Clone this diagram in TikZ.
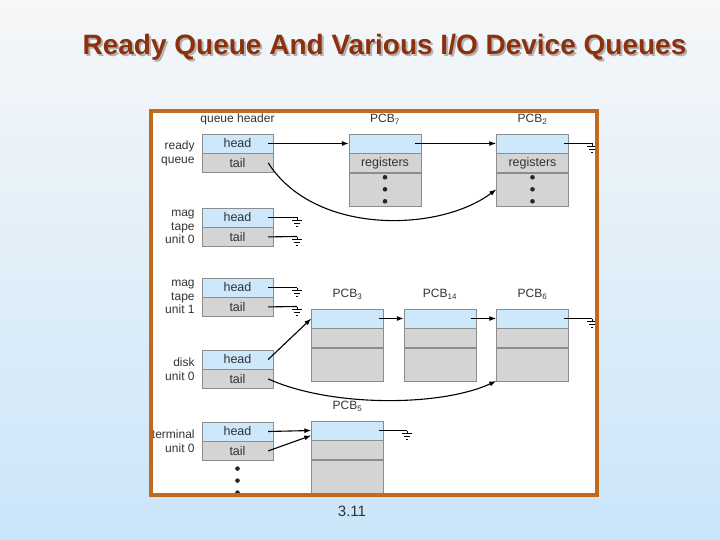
\documentclass[tikz,border=0pt]{standalone}
\usepackage{fontspec}
\setmainfont{Liberation Sans}
\usetikzlibrary{positioning,arrows.meta}
\definecolor{cellblue}{RGB}{204,232,250}
\definecolor{cellgray}{RGB}{212,212,212}
\definecolor{cellline}{RGB}{140,140,140}
\definecolor{framebrown}{RGB}{192,106,32}
\definecolor{titlered}{RGB}{140,48,14}
\definecolor{bgtop}{RGB}{246,247,248}
\definecolor{bgbot}{RGB}{202,229,249}
\tikzset{
  cell/.style={draw=cellline,minimum width=71pt,minimum height=19pt,inner sep=0pt,font=\fontsize{12.5}{12.5}\selectfont,text=black!80},
  headcell/.style={cell,fill=cellblue},
  tailcell/.style={cell,fill=cellgray},
  qlabel/.style={align=right,inner sep=0pt,font=\fontsize{12}{13.5}\selectfont,text=black!80},
  pcblabel/.style={inner sep=0pt,font=\fontsize{12}{12}\selectfont,text=black!80},
  link/.style={line width=1.1pt,-{Latex[length=7pt,width=5pt]}},
  wire/.style={line width=1.1pt},
  gnd/.pic={\draw[line width=0.8pt] (0,0)--(0,3) (-5,3)--(5,3) (-3,6)--(3,6) (-1,9)--(1,9);}
}
\begin{document}
\begin{tikzpicture}[x=1pt,y=-1pt]
\useasboundingbox (0,0) rectangle (720,540);
\shade[top color=bgtop,bottom color=bgbot] (0,0) rectangle (720,540);
\fill[white] (150.5,111) rectangle (597,495);

% title and slide number
\node[text=black!30,font=\fontsize{28}{28}\selectfont\bfseries] (titleshadow) at (386.5,49) {Ready Queue And Various I/O Device Queues};
\node[text=titlered,font=\fontsize{28}{28}\selectfont\bfseries] (title) at (384.5,47) {Ready Queue And Various I/O Device Queues};
\node[text=black!80,font=\fontsize{15}{15}\selectfont] (slideno) at (352,511) {3.11};

% queue headers
\foreach \nm/\y/\txt in {ready/143.5/{ready\\queue}, tapea/217.5/{mag\\tape\\unit 0}, tapeb/287.5/{mag\\tape\\unit 1}, disk/359.5/{disk\\unit 0}, term/431.5/{terminal\\unit 0}}
{
\node[headcell] (\nm-head) at (237.5,\y) {head};
\node[tailcell,below=0pt of \nm-head] (\nm-tail) {tail};
\node[qlabel,left=7pt of \nm-head.south west] (\nm-label) {\txt};
}
\node[pcblabel,above=9pt of ready-head] (qheader) {queue header};

% process control blocks
\foreach \nm/\x/\y/\sub/\reg in {seven/385/143.5/7/registers, two/532.5/143.5/2/registers, three/347.5/318.5/3/{}, fourteen/440/318.5/14/{}, six/532.5/318.5/6/{}, five/347.5/430.5/5/{}}
{
\node[headcell,minimum width=72pt] (\nm) at (\x,\y) {};
\node[tailcell,minimum width=72pt,below=0pt of \nm] (\nm-reg) {\reg};
\node[tailcell,minimum width=72pt,minimum height=33pt,below=0pt of \nm-reg] (\nm-rest) {};
\node[pcblabel,above=9pt of \nm] (\nm-label) {PCB\textsubscript{\sub}};
}
\foreach \nm in {seven, two}
\foreach \d in {-12,0,12}
\fill[black!85] ([yshift=\d pt]\nm-rest.center) circle[radius=2.3pt];
\foreach \d in {8,20,32}
\fill[black!85] ([yshift=-\d pt]term-tail.south) circle[radius=2.3pt];

% links between queue entries
\draw[link] ([xshift=-5pt]ready-head.east) -- (seven.west);
\draw[link] ([xshift=-6pt]seven.east) -- (two.west);
\draw[link] ([xshift=-5pt]ready-tail.east) .. controls (315,236) and (440,232) .. (two-rest.west);
\draw[link] ([xshift=-5pt]disk-head.east) -- (three.west);
\draw[link] ([xshift=-5pt]three.east) -- (fourteen.west);
\draw[link] ([xshift=-5pt]fourteen.east) -- (six.west);
\draw[link] ([xshift=-5pt]disk-tail.east) .. controls (330,407) and (440,407) .. (six-rest.south west);
\draw[link] ([xshift=-5pt]term-head.east) -- (five.west);
\draw[link] ([xshift=-5pt]term-tail.east) -- ([yshift=-5pt]five.west);

% null pointers
\coordinate (g-two) at (592,143.5);
\coordinate (g-tapea-head) at (297,217.5);
\coordinate (g-tapea-tail) at (297,236.5);
\coordinate (g-tapeb-head) at (297,287.5);
\coordinate (g-tapeb-tail) at (297,306.5);
\coordinate (g-six) at (592,318.5);
\coordinate (g-five) at (407,430.5);
\foreach \src/\g in {two/g-two, tapea-head/g-tapea-head, tapea-tail/g-tapea-tail, tapeb-head/g-tapeb-head, tapeb-tail/g-tapeb-tail, six/g-six, five/g-five}
{
\draw[wire] ([xshift=-5pt]\src.east) -- (\g);
\path (\g) pic{gnd};
}

\draw[framebrown,line width=4pt] (150.5,111) rectangle (597,495);
\end{tikzpicture}
\end{document}
